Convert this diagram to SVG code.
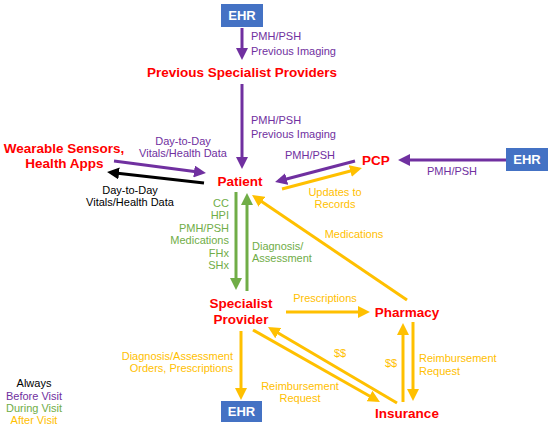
<svg xmlns="http://www.w3.org/2000/svg" width="550" height="427" viewBox="0 0 550 427">
<style>
text{font-family:"Liberation Sans",Arial,sans-serif}
.node{font-size:13.5px;font-weight:bold;fill:#FF0000;text-anchor:middle}
.lbl{font-size:11px}
.p{fill:#7030A0}.g{fill:#70AD47}.o{fill:#FFC000}.k{fill:#000}
.c{text-anchor:middle}.r{text-anchor:end}
.box{fill:#4472C4}
.ehr{font-size:13px;font-weight:bold;fill:#fff;text-anchor:middle}
.ln{fill:none;stroke-width:3}
.lp{stroke:#7030A0}.lg{stroke:#70AD47}.lo{stroke:#FFC000}.lk{stroke:#000}
</style>
<defs>
<marker id="ap" viewBox="0 0 10 10" refX="6.7" refY="5" markerWidth="4" markerHeight="4" orient="auto"><path d="M0,0L10,5L0,10z" fill="#7030A0"/></marker>
<marker id="ag" viewBox="0 0 10 10" refX="6.7" refY="5" markerWidth="4" markerHeight="4" orient="auto"><path d="M0,0L10,5L0,10z" fill="#70AD47"/></marker>
<marker id="ao" viewBox="0 0 10 10" refX="6.7" refY="5" markerWidth="4" markerHeight="4" orient="auto"><path d="M0,0L10,5L0,10z" fill="#FFC000"/></marker>
<marker id="ak" viewBox="0 0 10 10" refX="6.7" refY="5" markerWidth="4" markerHeight="4" orient="auto"><path d="M0,0L10,5L0,10z" fill="#000"/></marker>
</defs>
<g id="connectors">
<path class="ln lp" d="M242,28L242,56" marker-end="url(#ap)"/>
<path class="ln lp" d="M242,84L242,165" marker-end="url(#ap)"/>
<path class="ln lp" d="M114,161L202,172.5" marker-end="url(#ap)"/>
<path class="ln lp" d="M355,161L278.9,181" marker-end="url(#ap)"/>
<path class="ln lp" d="M506,160L402,160" marker-end="url(#ap)"/>
<path class="ln lk" d="M204,183L111,172.5" marker-end="url(#ak)"/>
<path class="ln lg" d="M236,192L236,286" marker-end="url(#ag)"/>
<path class="ln lg" d="M247,291L247,197" marker-end="url(#ag)"/>
<path class="ln lo" d="M282,189L358.1,169" marker-end="url(#ao)"/>
<path class="ln lo" d="M407,300L255.3,197.2" marker-end="url(#ao)"/>
<path class="ln lo" d="M286,312L366,312" marker-end="url(#ao)"/>
<path class="ln lo" d="M241,331L241,396" marker-end="url(#ao)"/>
<path class="ln lo" d="M403,402L403,327" marker-end="url(#ao)"/>
<path class="ln lo" d="M413,322L413,397" marker-end="url(#ao)"/>
<path class="ln lo" d="M253,330L376.5,400" marker-end="url(#ao)"/>
<path class="ln lo" d="M397,403L271.4,329" marker-end="url(#ao)"/>
<text class="lbl p" x="251" y="40">PMH/PSH</text>
<text class="lbl p" x="251" y="55">Previous Imaging</text>
<text class="lbl p" x="251" y="124">PMH/PSH</text>
<text class="lbl p" x="251" y="138">Previous Imaging</text>
<text class="lbl p c" x="183" y="145">Day-to-Day</text>
<text class="lbl p c" x="183" y="157">Vitals/Health Data</text>
<text class="lbl k c" x="130" y="194">Day-to-Day</text>
<text class="lbl k c" x="130" y="206">Vitals/Health Data</text>
<text class="lbl p c" x="310" y="159">PMH/PSH</text>
<text class="lbl p c" x="452" y="175">PMH/PSH</text>
<text class="lbl o c" x="335" y="196">Updates to</text>
<text class="lbl o c" x="335" y="208">Records</text>
<text class="lbl g r" x="229" y="207">CC</text>
<text class="lbl g r" x="229" y="219">HPI</text>
<text class="lbl g r" x="229" y="232">PMH/PSH</text>
<text class="lbl g r" x="229" y="244">Medications</text>
<text class="lbl g r" x="229" y="257">FHx</text>
<text class="lbl g r" x="229" y="269">SHx</text>
<text class="lbl g" x="252" y="250">Diagnosis/</text>
<text class="lbl g" x="252" y="262">Assessment</text>
<text class="lbl o c" x="354" y="238">Medications</text>
<text class="lbl o c" x="325" y="302">Prescriptions</text>
<text class="lbl o r" x="233" y="360">Diagnosis/Assessment</text>
<text class="lbl o r" x="233" y="372">Orders, Prescriptions</text>
<text class="lbl o c" x="391" y="367">$$</text>
<text class="lbl o" x="419" y="362">Reimbursement</text>
<text class="lbl o" x="419" y="375">Request</text>
<text class="lbl o c" x="340" y="357">$$</text>
<text class="lbl o c" x="300" y="390">Reimbursement</text>
<text class="lbl o c" x="300" y="402">Request</text>
</g>
<g id="ehr-top"><rect class="box" x="221" y="4" width="42" height="23"/><text class="ehr" x="242" y="20">EHR</text></g>
<g id="previous-specialist-providers"><text class="node" x="242" y="77">Previous Specialist Providers</text></g>
<g id="wearable"><text class="node" x="64" y="153">Wearable Sensors,</text><text class="node" x="64.5" y="168">Health Apps</text></g>
<g id="patient"><text class="node" x="240" y="186">Patient</text></g>
<g id="pcp"><text class="node" x="376" y="165">PCP</text></g>
<g id="ehr-right"><rect class="box" x="506" y="148" width="42" height="23"/><text class="ehr" x="527" y="164">EHR</text></g>
<g id="specialist-provider"><text class="node" x="241" y="308">Specialist</text><text class="node" x="241" y="324">Provider</text></g>
<g id="pharmacy"><text class="node" x="407" y="317">Pharmacy</text></g>
<g id="insurance"><text class="node" x="407" y="418">Insurance</text></g>
<g id="ehr-bottom"><rect class="box" x="221" y="401" width="41" height="21"/><text class="ehr" x="241.5" y="416">EHR</text></g>
<g id="legend">
<text class="lbl k c" x="34" y="387">Always</text>
<text class="lbl p c" x="34" y="400">Before Visit</text>
<text class="lbl g c" x="34" y="412">During Visit</text>
<text class="lbl o c" x="34" y="424">After Visit</text>
</g>
</svg>
